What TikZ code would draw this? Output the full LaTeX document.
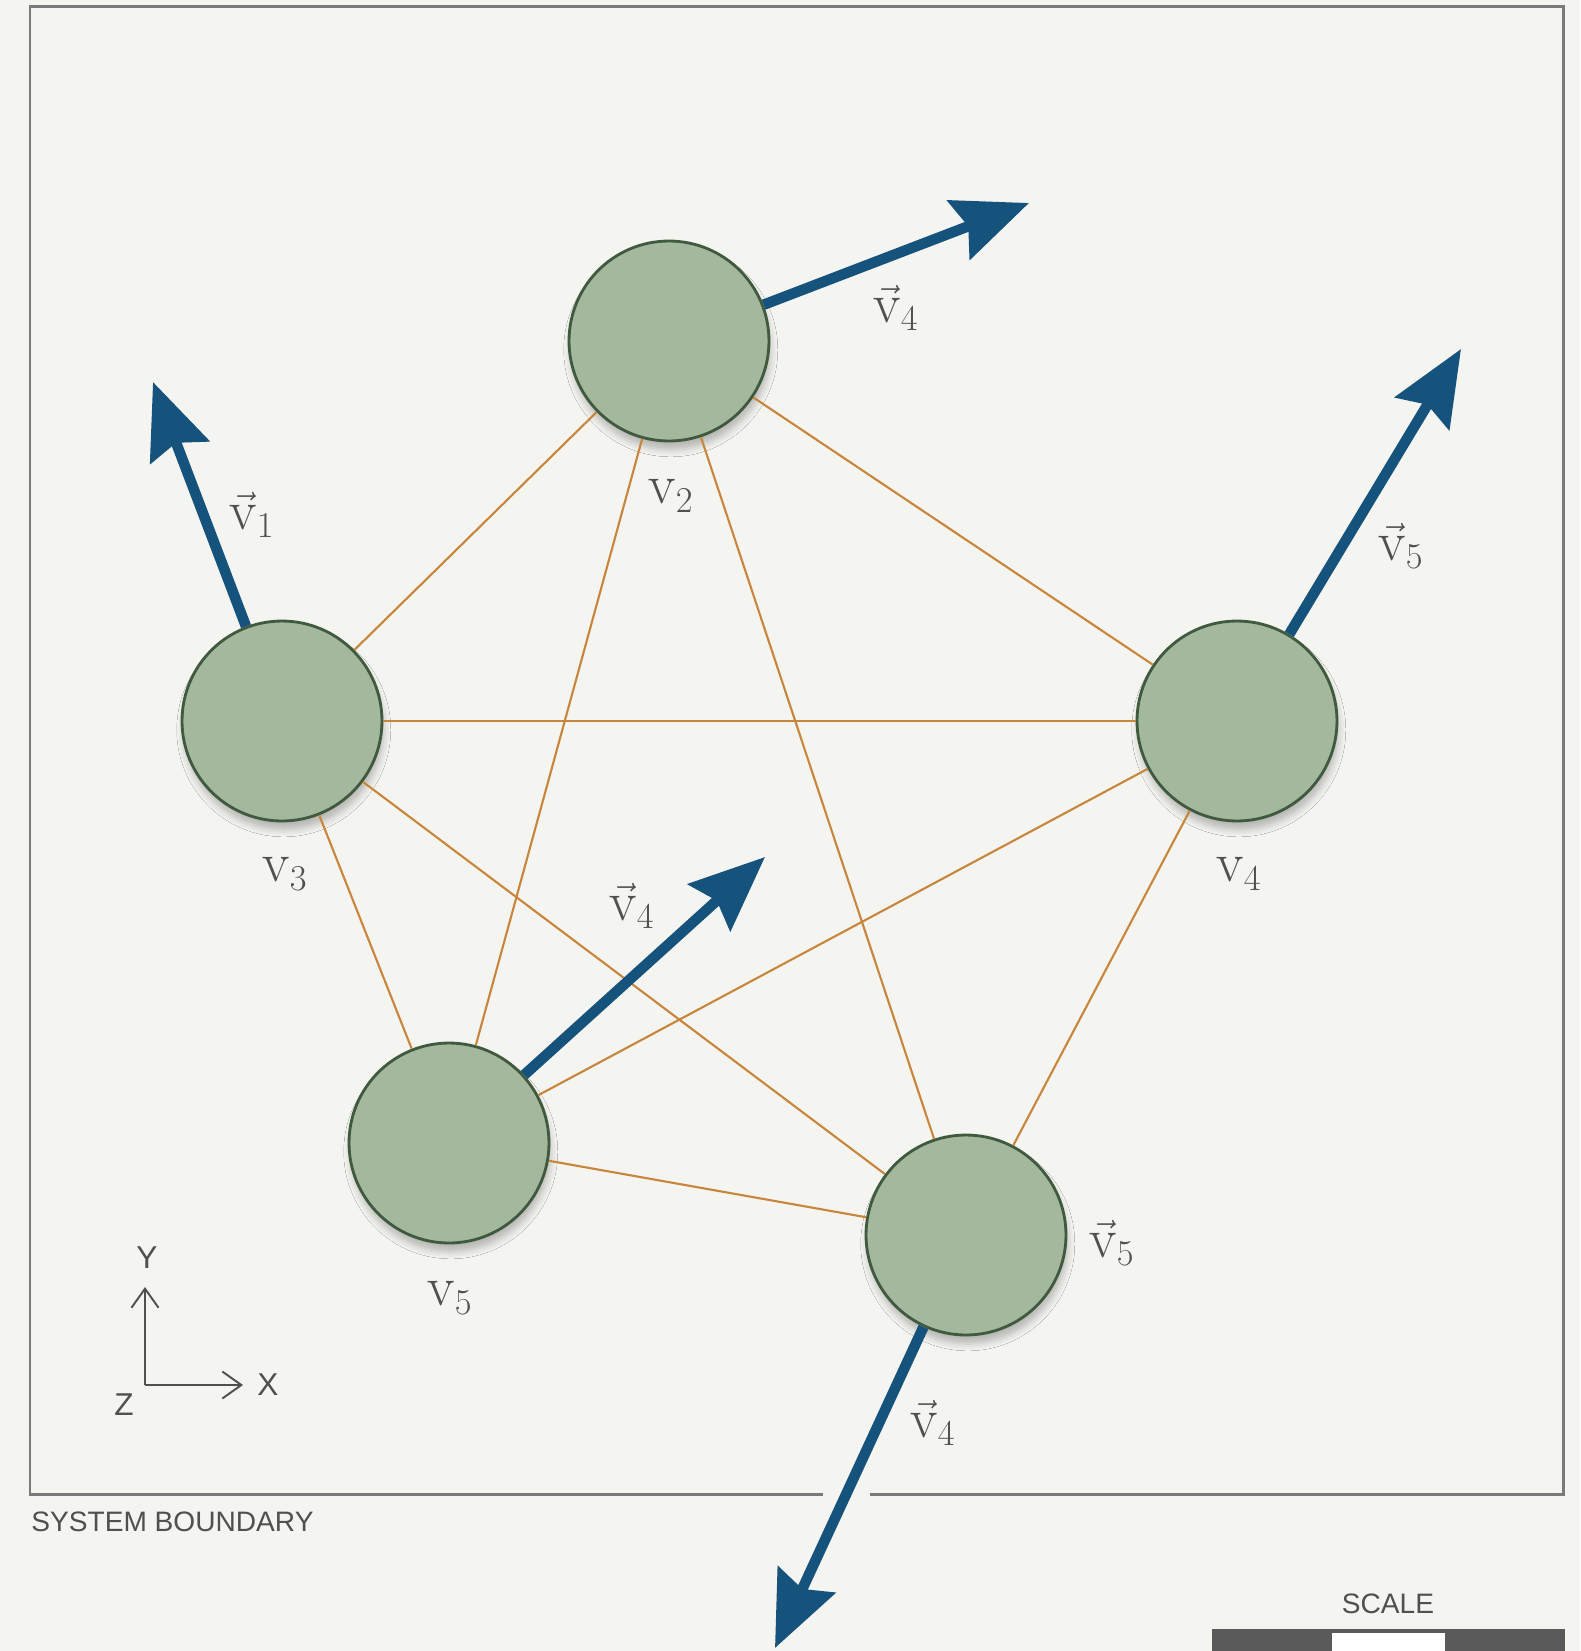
\documentclass[tikz,border=0pt]{standalone}
\usepackage{fontspec}
\setsansfont{Liberation Sans}
\usetikzlibrary{arrows.meta,shadows.blur}
\definecolor{paper}{HTML}{F4F4F0}
\definecolor{framegray}{HTML}{7A7A7A}
\definecolor{sage}{HTML}{A3B89D}
\definecolor{sagedark}{HTML}{3F5A3F}
\definecolor{bondorange}{HTML}{C8853C}
\definecolor{velblue}{HTML}{15527C}
\definecolor{ink}{HTML}{505050}
\definecolor{bargray}{HTML}{5A5A5A}

\begin{document}
\begin{tikzpicture}[x=0.02cm, y=-0.02cm,
    atom/.style={circle, draw=sagedark, line width=1.6pt, fill=sage, minimum size=4cm, inner sep=0pt,
      blur shadow={shadow xshift=1pt, shadow yshift=-5pt, shadow blur radius=4pt, shadow opacity=25}},
    bond/.style={draw=bondorange, line width=1.2pt},
    vel/.style={draw=velblue, line width=6pt, -{Stealth[length=1.5cm, width=1.25cm, inset=0.2cm]}},
    lbl/.style={text=ink, font=\fontsize{32}{36}\selectfont},
    tag/.style={text=ink, font=\sffamily\fontsize{16}{19}\selectfont},
    axis/.style={draw=ink, line width=1.1pt, -{Straight Barb[length=0.38cm, width=0.54cm]}}]
      % page and system boundary (open where the lower arrow leaves)
      \useasboundingbox[fill=paper] (0,0) rectangle (1580,1651);
      \draw[framegray, line width=1.7pt] (823,1494) -- (30,1494) -- (30,6) -- (1563,6) -- (1563,1494) -- (870,1494);
      \node[tag, anchor=base west, inner sep=0pt] (sysb) at (31,1531) {SYSTEM BOUNDARY};

      % the five particles
      \node[atom] (P2) at (669,341) {};
      \node[atom] (P3) at (282,721) {};
      \node[atom] (P4) at (1237,721) {};
      \node[atom] (P5) at (449,1143) {};
      \node[atom] (P6) at (966,1235) {};

      % every pair is bonded
      \draw[bond] (P2) -- (P3);
      \draw[bond] (P2) -- (P4);
      \draw[bond] (P2) -- (P5);
      \draw[bond] (P2) -- (P6);
      \draw[bond] (P3) -- (P4);
      \draw[bond] (P3) -- (P5);
      \draw[bond] (P3) -- (P6);
      \draw[bond] (P4) -- (P5);
      \draw[bond] (P4) -- (P6);
      \draw[bond] (P5) -- (P6);

      % particle names
      \node[lbl] (L2) at (671,496) {$\mathrm{v}_2$};
      \node[lbl] (L3) at (285,874) {$\mathrm{v}_3$};
      \node[lbl] (L4) at (1239,874) {$\mathrm{v}_4$};
      \node[lbl] (L5) at (450,1298) {$\mathrm{v}_5$};

      % velocities
      \coordinate (T2) at (1029,203);
      \coordinate (T3) at (153,382);
      \coordinate (T4) at (1461,349);
      \coordinate (T5) at (765,857);
      \coordinate (T6) at (775,1648);
      \draw[vel] (P2) -- (T2);
      \draw[vel] (P3) -- (T3);
      \draw[vel] (P4) -- (T4);
      \draw[vel] (P5) -- (T5);
      \draw[vel] (P6) -- (T6);
      \node[lbl] (V2) at (896,308) {$\vec{\mathrm{v}}_4$};
      \node[lbl] (V3) at (252,515) {$\vec{\mathrm{v}}_1$};
      \node[lbl] (V4) at (1401,546) {$\vec{\mathrm{v}}_5$};
      \node[lbl] (V5) at (632,906) {$\vec{\mathrm{v}}_4$};
      \node[lbl] (V6a) at (1112,1243) {$\vec{\mathrm{v}}_5$};
      \node[lbl] (V6b) at (933,1423) {$\vec{\mathrm{v}}_4$};

      % axes
      \coordinate (ax0) at (145,1385);
      \coordinate (axY) at (145,1287);
      \coordinate (axX) at (243,1385);
      \draw[axis] (ax0) -- (axY);
      \draw[axis] (ax0) -- (axX);
      \node[tag, font=\sffamily\fontsize{18}{20}\selectfont] (Ylab) at (147,1258) {Y};
      \node[tag, font=\sffamily\fontsize{18}{20}\selectfont] (Xlab) at (268,1385) {X};
      \node[tag, font=\sffamily\fontsize{18}{20}\selectfont] (Zlab) at (124,1405) {Z};

      % scale bar
      \node[tag] (scl) at (1388,1604) {SCALE};
      \fill[bargray] (1212,1629) rectangle (1565,1660);
      \fill[white!95!paper] (1332,1633) rectangle (1445,1660);
    \end{tikzpicture}
\end{document}
